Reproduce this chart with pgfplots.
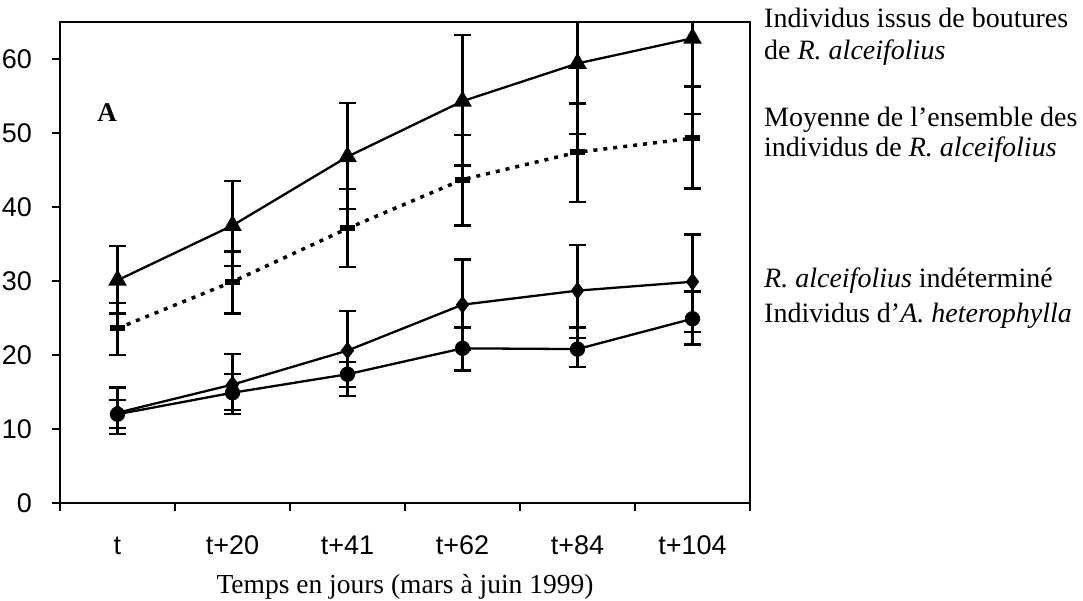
\documentclass[border=0pt]{standalone}
\usepackage{fontspec}
\setmainfont{Liberation Serif}
\setsansfont{Liberation Sans}
\usepackage{pgfplots}
\pgfplotsset{compat=1.18}
\usetikzlibrary{plotmarks}

\pgfplotstableread{
x y ep em
0 30.1 4.6 4.5
1 37.5 6.0 5.5
2 46.8 7.3 7.1
3 54.3 8.9 8.7
4 59.4 9.4 9.5
5 62.8 10.2 10.2
}\boutures
\pgfplotstableread{
x y ep em
0 23.6 3.4 3.6
1 29.9 4.1 4.3
2 37.1 5.3 5.2
3 43.7 6.0 6.2
4 47.4 6.6 6.7
5 49.3 7.0 6.8
}\moyenne
\pgfplotstableread{
x y ep em
0 12.2 3.4 2.9
1 16.0 4.1 4.0
2 20.6 5.3 6.1
3 26.8 6.1 6.1
4 28.7 6.2 6.4
5 29.9 6.4 6.8
}\indet
\pgfplotstableread{
x y ep em
0 12.0 1.9 1.9
1 14.9 2.5 2.3
2 17.4 1.7 1.7
3 20.9 2.8 3.0
4 20.8 2.9 2.4
5 24.9 3.7 3.5
}\hetero

\newcommand{\legfont}{\fontsize{28}{30}\selectfont}

\begin{document}
\begin{tikzpicture}[x=1pt,y=1pt]
\useasboundingbox (-60,-97) rectangle (1023,503);
\begin{axis}[
  at={(0,0)}, anchor=south west,
  scale only axis, width=690pt, height=481pt,
  xmin=-0.5, xmax=5.5, ymin=0, ymax=65,
  xtick={0,...,5},
  xticklabels={t,t+20,t+41,t+62,t+84,t+104},
  minor xtick={-0.5,0.5,...,5.5},
  ytick={0,10,...,60},
  major x tick style={draw=none},
  tick align=outside, tick pos=left,
  major tick length=8pt, minor tick length=8pt,
  tick style={line width=2pt, black},
  axis line style={line width=2pt},
  /pgf/number format/assume math mode=true,
  ticklabel style={font=\sffamily\fontsize{27}{27}\selectfont},
  xticklabel style={anchor=base, inner sep=0pt, yshift=-43pt},
  yticklabel style={anchor=east, inner sep=0pt, xshift=-20pt},
  xlabel={Temps en jours (mars à juin 1999)},
  xlabel style={font=\fontsize{27.5}{27.5}\selectfont, at={(axis description cs:0.5,0)}, anchor=base, yshift=-90pt},
  every axis plot/.append style={black, line width=2.3pt},
  error bars/y dir=both, error bars/y explicit,
  error bars/error bar style={solid, line width=2.3pt, black},
  error bars/error mark options={solid, rotate=90, mark size=8.5pt, line width=2.3pt, black},
]
\addplot[mark=triangle*, mark size=8.5pt, mark options={solid}]
  table[x=x, y=y, y error plus=ep, y error minus=em]{\boutures};
\addplot[dash pattern=on 4pt off 6pt, line width=3.5pt, mark=-, mark size=7.5pt, mark options={solid, line width=6pt}]
  table[x=x, y=y, y error plus=ep, y error minus=em]{\moyenne};
\addplot[mark=diamond*, mark size=7pt, mark options={solid}]
  table[x=x, y=y, y error plus=ep, y error minus=em]{\indet};
\addplot[mark=*, mark size=6.5pt, mark options={solid}]
  table[x=x, y=y, y error plus=ep, y error minus=em]{\hetero};
\end{axis}
\node[font=\bfseries\fontsize{27}{27}\selectfont, inner sep=0pt] at (47,390) {A};
\node[anchor=base west, inner sep=0pt, font=\legfont] at (704,475) {Individus issus de boutures};
\node[anchor=base west, inner sep=0pt, font=\legfont] at (704,443) {de \textit{R. alceifolius}};
\node[anchor=base west, inner sep=0pt, font=\legfont] at (704,376) {Moyenne de l’ensemble des};
\node[anchor=base west, inner sep=0pt, font=\legfont] at (704,346) {individus de \textit{R. alceifolius}};
\node[anchor=base west, inner sep=0pt, font=\legfont] at (704,216) {\textit{R. alceifolius} indéterminé};
\node[anchor=base west, inner sep=0pt, font=\legfont] at (704,181) {Individus d’\textit{A. heterophylla}};
\end{tikzpicture}
\end{document}
